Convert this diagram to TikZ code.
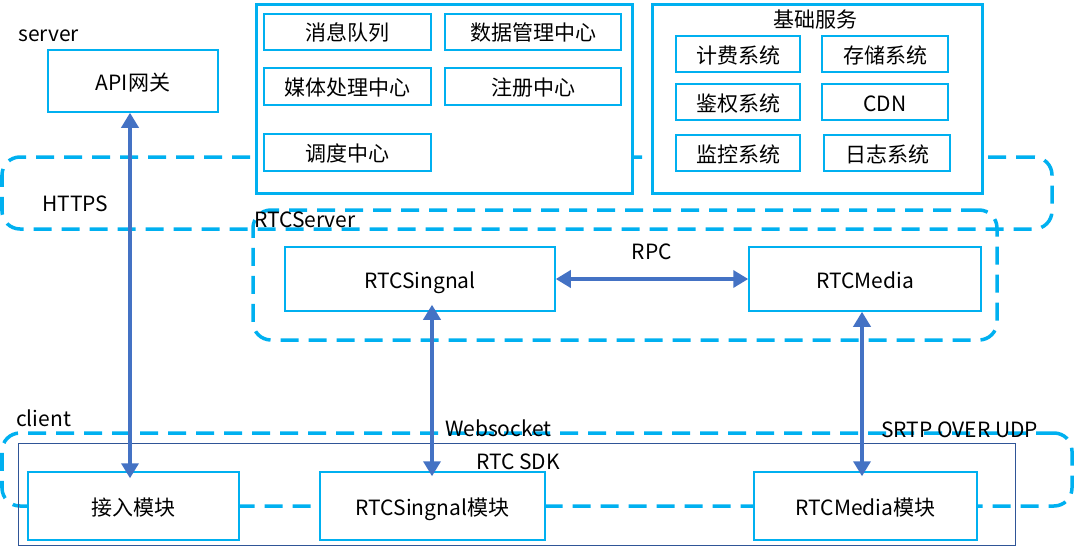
\documentclass[tikz,border=0pt]{standalone}
\usepackage{fontspec}
\setmainfont{Noto Sans CJK SC}
\usetikzlibrary{positioning,arrows.meta}
\definecolor{skyline}{HTML}{00B0F0}
\definecolor{arrowblue}{HTML}{4472C4}
\definecolor{sdkblue}{HTML}{2F5597}
\tikzset{
    box/.style={draw=skyline, line width=1.5pt, fill=white, inner sep=0pt, align=center, text height=19pt, text depth=1pt},
    frame/.style={draw=skyline, line width=3.5pt, dash pattern=on 18pt off 10pt, rounded corners=18pt, inner sep=0pt},
    link/.style={draw=arrowblue, line width=3.5pt, {Triangle[width=17pt,length=15pt]}-{Triangle[width=17pt,length=15pt]}},
    lbl/.style={inner sep=0pt}
}
\begin{document}
\begin{tikzpicture}[x=1pt,y=-1pt,font=\fontsize{21}{25}\selectfont]
\useasboundingbox (0,0) rectangle (1080,546);

% dashed groups
\node[frame, minimum width=1050pt, minimum height=72pt] (https) at (527,193) {};
\node[frame, minimum width=744pt, minimum height=130pt] (rtcserver) at (625,275) {};
\node[frame, minimum width=1070pt, minimum height=73pt] (client) at (537,469.5) {};
\node[draw=sdkblue, line width=1pt, minimum width=997pt, minimum height=102pt] (sdk) at (516.5,494) {};

\node[lbl, anchor=west] at (18,36) {server};
\node[lbl, anchor=west] at (42,204) {HTTPS};
\node[lbl, anchor=west] at (254,220) {RTCServer};
\node[lbl, anchor=west] at (16,418) {client};
\node[lbl] at (518,462) {RTC SDK};

% server side
\node[box, minimum width=170pt, minimum height=62pt] (gateway) at (133,81) {API网关};

\node[box, line width=3pt, minimum width=376pt, minimum height=189pt] (core) at (444,98.5) {};
\node[box, minimum width=167pt, minimum height=36pt] (mq) at (347.5,32) {消息队列};
\node[box, minimum width=176pt, minimum height=36pt] (data) at (533,32) {数据管理中心};
\node[box, minimum width=167pt, minimum height=37pt] (media) at (347.5,86.5) {媒体处理中心};
\node[box, minimum width=176pt, minimum height=37pt] (reg) at (533,86.5) {注册中心};
\node[box, minimum width=167pt, minimum height=37pt] (sched) at (347.5,152.5) {调度中心};

\node[box, line width=3pt, minimum width=330pt, minimum height=189pt] (base) at (817,98.5) {};
\node[lbl] at (815,20) {基础服务};
\node[box, minimum width=124pt, minimum height=36pt] (bill) at (738,54) {计费系统};
\node[box, minimum width=126pt, minimum height=36pt] (store) at (885,54) {存储系统};
\node[box, minimum width=124pt, minimum height=36pt] (auth) at (738,102) {鉴权系统};
\node[box, minimum width=126pt, minimum height=36pt] (cdn) at (885,102) {CDN};
\node[box, minimum width=124pt, minimum height=36pt] (mon) at (738,153) {监控系统};
\node[box, minimum width=126pt, minimum height=36pt] (log) at (887,153) {日志系统};

% rtc server
\node[box, minimum width=270pt, minimum height=64pt] (signal) at (420,279) {RTCSingnal};
\node[box, minimum width=232pt, minimum height=64pt] (rtcmedia) at (865,279) {RTCMedia};

% client
\node[box, minimum width=211pt, minimum height=68pt] (access) at (133.5,506) {接入模块};
\node[box, minimum width=225pt, minimum height=68pt] (signalmod) at (432.5,506) {RTCSingnal模块};
\node[box, minimum width=223pt, minimum height=68pt] (mediamod) at (865.5,506) {RTCMedia模块};

% links
\draw[link] (signal.east) -- (rtcmedia.west) node[pos=0.5, above=14pt, text=black] {RPC};
\draw[link] (gateway.south -| 130,0) -- ([yshift=-7pt]access.north -| 130,0);
\draw[link] ([yshift=7pt]signal.south -| 432,0) -- ([yshift=-5pt]signalmod.north -| 432,0) node[pos=0.72, right=8pt, text=black] {Websocket};
\draw[link] (rtcmedia.south -| 862,0) -- ([yshift=-5pt]mediamod.north -| 862,0) node[pos=0.72, right=14pt, text=black] {SRTP OVER UDP};
\end{tikzpicture}
\end{document}
